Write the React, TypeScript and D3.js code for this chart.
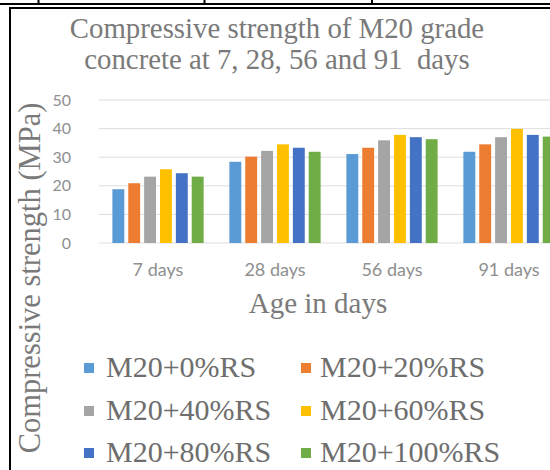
import React from "react";
import * as d3 from "d3";

const categories = ["7 days", "28 days", "56 days", "91 days"];
const seriesNames = ["M20+0%RS", "M20+20%RS", "M20+40%RS", "M20+60%RS", "M20+80%RS", "M20+100%RS"];
const seriesColors = ["#5B9BD5", "#ED7D31", "#A5A5A5", "#FFC000", "#4472C4", "#70AD47"];
const s0 = [18.8, 28.4, 31.1, 31.9];
const s20 = [20.9, 30.2, 33.3, 34.5];
const s40 = [23.2, 32.2, 35.9, 37.0];
const s60 = [25.8, 34.5, 37.8, 39.9];
const s80 = [24.4, 33.3, 37.0, 37.8];
const s100 = [23.2, 31.9, 36.3, 37.2];
const seriesValues = [s0, s20, s40, s60, s80, s100];
const yTicks = [0, 10, 20, 30, 40, 50];
const titleLines = ["Compressive strength of M20 grade", "concrete at 7, 28, 56 and 91  days"];
const xTitle = "Age in days";
const yTitle = "Compressive strength (MPa)";

const W = 550;
const H = 470;
const serif = "Liberation Serif, DejaVu Serif, Times New Roman, serif";
const sans = "Lato, Carlito, Calibri, Open Sans, sans-serif";

export default function App() {
  const x0 = d3.scaleBand<string>().domain(categories).range([99.5, 567.5]).paddingInner(0.22).paddingOuter(0.11);
  const x1 = d3.scaleBand<string>().domain(seriesNames).range([0, x0.bandwidth()]).paddingInner(0.25).paddingOuter(0);
  const y = d3.scaleLinear().domain([0, 50]).range([243, 100]);

  const markerX = [84, 301];
  const textX = [106, 320];
  const baselines = [377, 420, 462];
  const serifStyle = { fontFamily: serif, whiteSpace: "pre" as const };
  const sansStyle = { fontFamily: sans };

  return (
    <svg width={W} height={H} style={{ position: "fixed", left: 0, top: 0, background: "#fff" }}>
      <rect x={0} y={0} width={W} height={H} fill="#fff" />
      {/* table borders */}
      <line x1={0} x2={W} y1={4} y2={4} stroke="#000" strokeWidth={2} />
      {[38.5, 204.5, 372].map((vx) => (
        <line key={vx} x1={vx} x2={vx} y1={0} y2={4} stroke="#000" strokeWidth={2} />
      ))}
      <line x1={9} x2={W} y1={8} y2={8} stroke="#000" strokeWidth={2} />
      <line x1={10} x2={10} y1={7} y2={H} stroke="#000" strokeWidth={2} />

      {/* title */}
      {titleLines.map((t, i) => (
        <text key={i} x={277} y={38 + i * 31} textAnchor="middle" style={serifStyle} fontSize={28.8} fill="#7a7a7a">
          {t}
        </text>
      ))}

      {/* gridlines */}
      {yTicks.map((t) => (
        <g key={t}>
          <line x1={99} x2={W} y1={y(t)} y2={y(t)} stroke="#dedede" strokeWidth={1} />
          <text x={71} y={y(t)} dy="0.35em" textAnchor="end" style={sansStyle} fontSize={16} fill="#8f8f8f">
            {t}
          </text>
        </g>
      ))}

      {/* bars */}
      {categories.map((c, ci) => (
        <g key={c} transform={`translate(${x0(c)},0)`}>
          {seriesNames.map((s, si) => (
            <rect
              key={s}
              x={x1(s)}
              y={y(seriesValues[si][ci])}
              width={x1.bandwidth()}
              height={y(0) - y(seriesValues[si][ci])}
              fill={seriesColors[si]}
            />
          ))}
        </g>
      ))}

      {/* x labels */}
      {categories.map((c) => (
        <text key={c} x={(x0(c) as number) + x0.bandwidth() / 2} y={276} textAnchor="middle" style={sansStyle} fontSize={18} fill="#8f8f8f">
          {c}
        </text>
      ))}

      {/* axis titles */}
      <text x={318} y={313} textAnchor="middle" style={serifStyle} fontSize={29} fill="#7a7a7a">
        {xTitle}
      </text>
      <text
        transform={`translate(29,278) rotate(-90)`}
        textAnchor="middle"
        dy="0.35em"
        style={serifStyle}
        fontSize={30.5}
        fill="#7a7a7a"
      >
        {yTitle}
      </text>

      {/* legend */}
      {seriesNames.map((s, i) => {
        const col = i % 2;
        const row = Math.floor(i / 2);
        const by = baselines[row];
        return (
          <g key={s}>
            <rect x={markerX[col]} y={by - 14} width={10} height={10} fill={seriesColors[i]} />
            <text x={textX[col]} y={by} style={serifStyle} fontSize={30} fill="#6e6e6e">
              {s}
            </text>
          </g>
        );
      })}
    </svg>
  );
}
